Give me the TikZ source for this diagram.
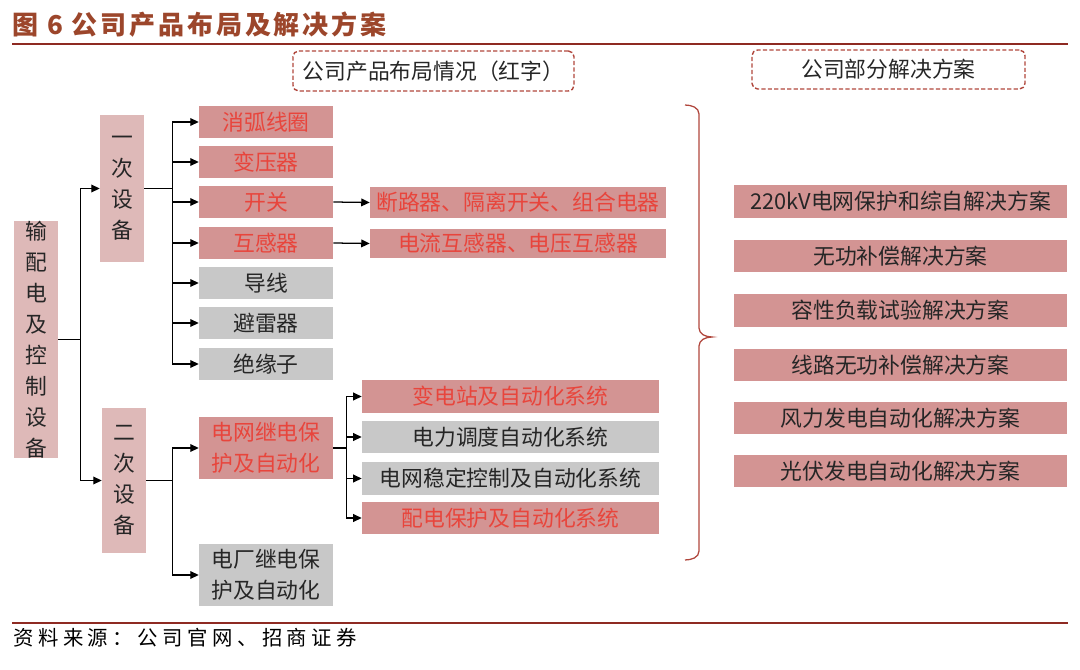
\documentclass[tikz,border=0pt]{standalone}
\usepackage{fontspec}
\usetikzlibrary{arrows.meta}
\newfontfamily\cjk{Noto Sans CJK SC}
\newfontfamily\cjktitle[LetterSpace=11]{Noto Sans CJK SC}
\newfontfamily\cjksrc[LetterSpace=22]{Noto Sans CJK SC}
\definecolor{titleBrown}{HTML}{9C462B}
\definecolor{ruleRed}{HTML}{8E2A22}
\definecolor{boxPink}{HTML}{DEB9B8}
\definecolor{boxRed}{HTML}{D39493}
\definecolor{boxGray}{HTML}{C8C8C8}
\definecolor{textRed}{HTML}{E8453C}
\definecolor{dashRed}{HTML}{B0463C}

\begin{document}
\begin{tikzpicture}[x=0.025cm, y=-0.025cm,
  every node/.style={font=\cjk\fontsize{15.5}{22}\selectfont, inner sep=0pt, text=black!85},
  vbox/.style={fill=boxPink, minimum width=1.1cm, align=center},
  redbox/.style={fill=boxRed, text=textRed, minimum height=0.8cm, align=center},
  graybox/.style={fill=boxGray, minimum height=0.8cm, align=center},
  solbox/.style={fill=boxRed, minimum width=8.325cm, minimum height=0.8cm},
  hdr/.style={draw=dashRed, dash pattern=on 3pt off 1.6pt, line width=1pt, rounded corners=4pt},
  arr/.style={-{Triangle[length=6pt,width=5.5pt]}, line width=0.9pt}]
\useasboundingbox (0,0) rectangle (1080,670);

% title and rules
\node[anchor=west, font=\cjktitle\fontsize{18.5}{22}\selectfont\bfseries, text=titleBrown] (title) at (12,24.5) {图 6 公司产品布局及解决方案};
\draw[ruleRed, line width=2pt] (12,44) -- (1068,44);
\draw[ruleRed, line width=1.8pt] (12,623) -- (1068,623);
\node[anchor=west, font=\cjksrc\fontsize{14.5}{20}\selectfont, text=black] (src) at (13,638) {资料来源：公司官网、招商证券};

% headers
\node[hdr, minimum width=7.025cm, minimum height=1.0cm] (hdrL) at (433.5,71) {公司产品布局情况（红字）};
\node[hdr, minimum width=6.825cm, minimum height=0.975cm] (hdrR) at (888.5,69.5) {公司部分解决方案};

% tree
\node[vbox, minimum height=5.875cm] (root) at (36,339.5) {输\\配\\电\\及\\控\\制\\设\\备};
\node[vbox, minimum height=3.675cm] (yici) at (122,188.5) {一\\次\\设\\备};
\node[vbox, minimum height=3.625cm] (erci) at (124,480.5) {二\\次\\设\\备};

\node[redbox, minimum width=3.35cm] (xhxq) at (266,122) {消弧线圈};
\node[redbox, minimum width=3.35cm] (byq) at (266,162) {变压器};
\node[redbox, minimum width=3.35cm] (kg) at (266,202) {开关};
\node[redbox, minimum width=3.35cm] (hgq) at (266,243) {互感器};
\node[graybox, minimum width=3.35cm] (dx) at (266,283) {导线};
\node[graybox, minimum width=3.35cm] (blq) at (266,323) {避雷器};
\node[graybox, minimum width=3.35cm] (jyz) at (266,364) {绝缘子};

\node[redbox, minimum width=7.4cm, minimum height=0.775cm] (kgsub) at (518,202.5) {断路器、隔离开关、组合电器};
\node[redbox, minimum width=7.4cm, minimum height=0.725cm] (hgqsub) at (518,243.5) {电流互感器、电压互感器};

\node[redbox, minimum width=3.35cm, minimum height=1.55cm] (dwbh) at (266,448) {电网继电保\\护及自动化};
\node[graybox, minimum width=3.35cm, minimum height=1.55cm] (dcbh) at (266,575) {电厂继电保\\护及自动化};

\node[redbox, minimum width=7.425cm] (bdz) at (510.5,396.5) {变电站及自动化系统};
\node[graybox, minimum width=7.425cm] (ddxt) at (510.5,437) {电力调度自动化系统};
\node[graybox, minimum width=7.425cm] (wdkz) at (510.5,478.5) {电网稳定控制及自动化系统};
\node[redbox, minimum width=7.425cm] (pdbh) at (510.5,518) {配电保护及自动化系统};

\draw[arr] (root.east) -- ++(22,0) |- (yici.west);
\draw[arr] (root.east) -- ++(22,0) |- (erci.west);
\foreach \n in {xhxq,byq,kg,hgq,dx,blq,jyz}
  \draw[arr] (yici.east) -- ++(28,0) |- (\n.west);
\foreach \n in {dwbh,dcbh}
  \draw[arr] (erci.east) -- ++(26,0) |- (\n.west);
\foreach \n in {bdz,ddxt,wdkz,pdbh}
  \draw[arr] (dwbh.east) -- ++(13,0) |- (\n.west);
\draw[arr] (kg.east) -- (kgsub.west);
\draw[arr] (hgq.east) -- (hgqsub.west);

% brace
\draw[dashRed, line width=0.9pt] (685,105) to[out=0,in=90] (699,114) -- (699,328)
  to[out=-90,in=180] (712,337) to[out=180,in=90] (699,346) -- (699,551) to[out=-90,in=0] (685,560);

% solutions
\foreach \y/\t [count=\i] in {201.5/220kV电网保护和综自解决方案, 256/无功补偿解决方案,
    310.5/容性负载试验解决方案, 365/线路无功补偿解决方案,
    418/风力发电自动化解决方案, 471/光伏发电自动化解决方案}
  \node[solbox] (fa\i) at (900.5,\y) {\t};
\end{tikzpicture}
\end{document}
